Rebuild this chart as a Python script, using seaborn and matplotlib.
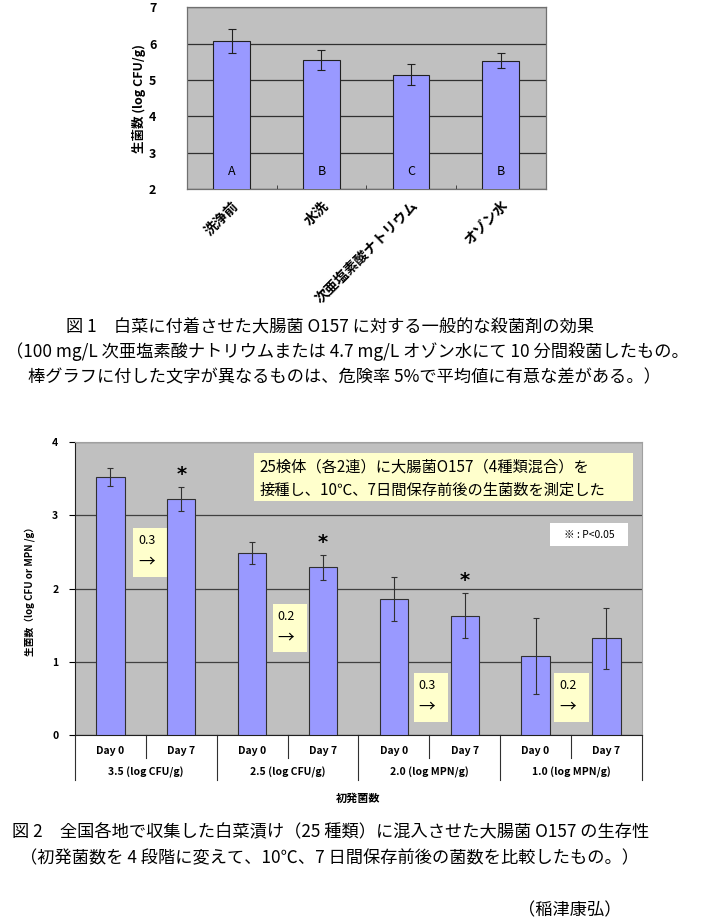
import numpy as np
import pandas as pd
import matplotlib
matplotlib.use("Agg")
import matplotlib.pyplot as plt
import matplotlib.transforms as mtransforms
from matplotlib.patches import Rectangle
import seaborn as sns

# ---------------- data: figure 1 ----------------
fig1_cats = ["洗浄前", "水洗", "次亜塩素酸ナトリウム", "オゾン水"]
fig1_means = [6.07, 5.55, 5.15, 5.53]
fig1_err = [0.33, 0.27, 0.30, 0.21]
fig1_letters = ["A", "B", "C", "B"]

# ---------------- data: figure 2 ----------------
fig2_groups = ["3.5 (log CFU/g)", "2.5 (log CFU/g)", "2.0 (log MPN/g)", "1.0 (log MPN/g)"]
fig2_days = ["Day 0", "Day 7"]
fig2_means = [3.52, 3.22, 2.49, 2.29, 1.86, 1.63, 1.08, 1.32]
fig2_err = [0.12, 0.16, 0.15, 0.17, 0.30, 0.31, 0.52, 0.42]
fig2_signif = [False, True, False, True, False, True, False, False]
fig2_drops = ["0.3", "0.2", "0.3", "0.2"]

BAR = "#9999FF"
BG = "#C0C0C0"

plt.rcParams['font.family'] = ['Noto Sans CJK JP', 'DejaVu Sans']

fig = plt.figure(figsize=(7.05, 9.22), dpi=100)

# =========================================================
# Figure 1
# =========================================================
ax1 = fig.add_axes([0.265, 0.795, 0.509, 0.197])
df1 = pd.DataFrame({"cat": fig1_cats, "val": fig1_means})
sns.barplot(data=df1, x="cat", y="val", color=BAR, saturation=1, width=0.41,
            edgecolor="#202020", linewidth=0.8, errorbar=None, ax=ax1, zorder=3)
ax1.errorbar(range(len(fig1_means)), fig1_means, yerr=fig1_err, fmt="none",
             ecolor="#202020", elinewidth=0.8, capsize=3, capthick=0.8, zorder=4)
for i, lab in enumerate(fig1_letters):
    ax1.text(i, 2.47, lab, ha="center", va="center", fontsize=9, zorder=5)

ax1.set_facecolor(BG)
ax1.set_ylim(2, 7)
ax1.set_xlim(-0.5, len(fig1_cats) - 0.5)
ax1.set_yticks(range(2, 8))
ax1.yaxis.grid(True, color="#303030", linewidth=0.9)
ax1.set_axisbelow(True)
ax1.tick_params(axis="y", length=0, pad=22, labelsize=9)
for t in ax1.get_yticklabels():
    t.set_fontweight("bold")
ax1.set_xticks(np.arange(len(fig1_cats)))
ax1.set_xticklabels(fig1_cats, rotation=45, ha="right", rotation_mode="anchor",
                    fontsize=10, fontweight="bold")
ax1.tick_params(axis="x", length=0, pad=7)
ax1.set_xticks(np.arange(0.5, len(fig1_cats) - 0.5), minor=True)
ax1.tick_params(axis="x", which="minor", direction="in", length=3, color="#303030")
for s in ax1.spines.values():
    s.set_color("#707070")
    s.set_linewidth(0.9)
ax1.set_xlabel("")
ax1.set_ylabel("生菌数 (log CFU/g)", fontsize=9, fontweight="bold", labelpad=2)

# captions for figure 1
cap_fs = 12.4
fig.text(66 / 705, 1 - 327 / 922, "図 1　白菜に付着させた大腸菌 O157 に対する一般的な殺菌剤の効果",
         fontsize=cap_fs, va="center", ha="left")
fig.text(6 / 705, 1 - 352 / 922, "（100 mg/L 次亜塩素酸ナトリウムまたは 4.7 mg/L オゾン水にて 10 分間殺菌したもの。",
         fontsize=cap_fs, va="center", ha="left")
fig.text(28 / 705, 1 - 377 / 922, "棒グラフに付した文字が異なるものは、危険率 5%で平均値に有意な差がある。）",
         fontsize=cap_fs, va="center", ha="left")

# =========================================================
# Figure 2
# =========================================================
ax2 = fig.add_axes([0.1064, 0.2028, 0.804, 0.3178])
ids = [f"{g}|{d}" for g in fig2_groups for d in fig2_days]
df2 = pd.DataFrame({"id": ids, "val": fig2_means})
sns.barplot(data=df2, x="id", y="val", color=BAR, saturation=1, width=0.4,
            edgecolor="#303030", linewidth=0.8, errorbar=None, ax=ax2, zorder=3)
xs = np.arange(len(fig2_means))
ax2.errorbar(xs, fig2_means, yerr=fig2_err, fmt="none", ecolor="#303030",
             elinewidth=0.8, capsize=2.5, capthick=0.8, zorder=4)
for x, m, e, s in zip(xs, fig2_means, fig2_err, fig2_signif):
    if s:
        ax2.text(x, m + e + 0.04, "*", ha="center", va="bottom", fontsize=14,
                 fontweight="bold", family="DejaVu Sans", zorder=5)

ax2.set_facecolor(BG)
ax2.set_ylim(0, 4)
ax2.set_xlim(-0.5, len(fig2_means) - 0.5)
ax2.set_yticks(range(0, 5))
ax2.yaxis.grid(True, color="#404040", linewidth=0.9)
ax2.set_axisbelow(True)
ax2.tick_params(axis="y", length=4, width=0.8, pad=8, labelsize=7.5)
for t in ax2.get_yticklabels():
    t.set_fontweight("bold")
ax2.set_xticks(xs)
ax2.set_xticklabels([d for g in fig2_groups for d in fig2_days], fontsize=7.5,
                    fontweight="bold")
ax2.tick_params(axis="x", length=0, pad=8)
ax2.spines["left"].set_color("#202020")
ax2.spines["bottom"].set_color("#202020")
ax2.spines["top"].set_color("#A0A0A0")
ax2.spines["right"].set_color("#A0A0A0")
ax2.set_xlabel("初発菌数", fontsize=8, fontweight="bold", labelpad=26)
ax2.set_ylabel("生菌数（log CFU or MPN /g）", fontsize=7, fontweight="bold", labelpad=12)

# x axis "table" separators
trans = mtransforms.blended_transform_factory(ax2.transData, ax2.transAxes)
for k in range(len(fig2_means) + 1):
    xk = k - 0.5
    ybot = -0.154 if k % 2 == 0 else -0.078
    ax2.plot([xk, xk], [0, ybot], color="#303030", lw=0.8, transform=trans,
             clip_on=False)
for gi, g in enumerate(fig2_groups):
    ax2.text(gi * 2 + 0.5, -0.128, g, transform=trans, ha="center", va="center",
             fontsize=7.5, fontweight="bold")

# drop boxes between Day 0 / Day 7
drop_boxes = [(0.32, 2.16), (2.29, 1.13), (4.28, 0.18), (6.26, 0.18)]
for (bx, by), txt in zip(drop_boxes, fig2_drops):
    ax2.add_patch(Rectangle((bx, by), 0.49, 0.66, facecolor="#FFFFCC",
                            edgecolor="none", zorder=2.5))
    ax2.text(bx + 0.07, by + 0.49, txt, fontsize=9, va="center", ha="left", zorder=5)
    ax2.text(bx + 0.07, by + 0.2, "→", fontsize=12, va="center", ha="left", zorder=5)

# note box
ax2.add_patch(Rectangle((2.02, 3.19), 5.36, 0.66, facecolor="#FFFFCC",
                        edgecolor="none", zorder=5))
ax2.text(2.1, 3.66, "25検体（各2連）に大腸菌O157（4種類混合）を", fontsize=11,
         va="center", ha="left", zorder=6)
ax2.text(2.1, 3.34, "接種し、10℃、7日間保存前後の生菌数を測定した", fontsize=11,
         va="center", ha="left", zorder=6)

ax2.add_patch(Rectangle((6.21, 2.58), 1.10, 0.31, facecolor="white",
                        edgecolor="none", zorder=5))
ax2.text(6.76, 2.735, "※ : P<0.05", fontsize=7.5, va="center", ha="center", zorder=6)

# captions for figure 2
fig.text(12 / 705, 1 - 832 / 922, "図 2　全国各地で収集した白菜漬け（25 種類）に混入させた大腸菌 O157 の生存性",
         fontsize=cap_fs, va="center", ha="left")
fig.text(20 / 705, 1 - 858 / 922, "（初発菌数を 4 段階に変えて、10℃、7 日間保存前後の菌数を比較したもの。）",
         fontsize=cap_fs, va="center", ha="left")
fig.text(518 / 705, 1 - 910 / 922, "（稲津康弘）", fontsize=cap_fs, va="center", ha="left")

fig.savefig("out.png", dpi=100)
